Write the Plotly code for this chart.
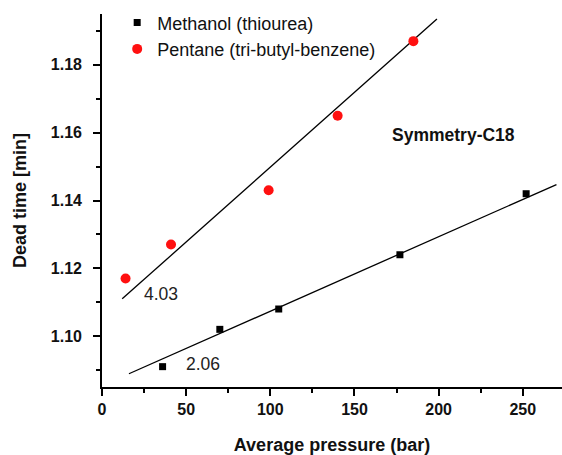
import plotly.graph_objects as go

# Data
methanol_p = [36, 70, 105, 177, 252]
methanol_t = [1.091, 1.102, 1.108, 1.124, 1.142]
pentane_p = [14, 41, 99, 140, 185]
pentane_t = [1.117, 1.127, 1.143, 1.165, 1.187]

methanol_fit_p = [16, 270]
methanol_fit_t = [1.0889, 1.1447]
pentane_fit_p = [12, 199]
pentane_fit_t = [1.111, 1.1935]

slope_labels = ["4.03", "2.06"]
slope_label_p = [24, 49]
slope_label_t = [1.1123, 1.0917]

FONT = "Liberation Sans, Arial, Helvetica, sans-serif"

fig = go.Figure()
fig.add_trace(go.Scatter(x=methanol_fit_p, y=methanol_fit_t, mode="lines",
                         line=dict(color="black", width=1.3), showlegend=False,
                         hoverinfo="skip"))
fig.add_trace(go.Scatter(x=pentane_fit_p, y=pentane_fit_t, mode="lines",
                         line=dict(color="black", width=1.3), showlegend=False,
                         hoverinfo="skip"))
fig.add_trace(go.Scatter(x=methanol_p, y=methanol_t, mode="markers",
                         name="Methanol (thiourea)",
                         marker=dict(symbol="square", size=7, color="black")))
fig.add_trace(go.Scatter(x=pentane_p, y=pentane_t, mode="markers",
                         name="Pentane (tri-butyl-benzene)",
                         marker=dict(symbol="circle", size=10, color="#ff1010")))

for txt, px, ty in zip(slope_labels, slope_label_p, slope_label_t):
    fig.add_annotation(x=px, y=ty, text=txt, showarrow=False, xanchor="left",
                       yanchor="middle", font=dict(family=FONT, size=17.5, color="#222"))

fig.add_annotation(x=209, y=1.1592, text="<b>Symmetry-C18</b>", showarrow=False,
                   xanchor="center", yanchor="middle",
                   font=dict(family=FONT, size=17.5, color="#111"))

fig.update_layout(
    width=562, height=455,
    margin=dict(l=102, r=0, t=14, b=68),
    plot_bgcolor="white", paper_bgcolor="white",
    font=dict(family=FONT, color="black"),
    legend=dict(x=0.033, y=1.026, xanchor="left", yanchor="top",
                bgcolor="rgba(0,0,0,0)", borderwidth=0,
                font=dict(family=FONT, size=18, color="#111"),
                tracegroupgap=0, itemsizing="trace"),
    xaxis=dict(
        range=[0, 273.3], showline=True, linecolor="black", linewidth=1.6,
        ticks="outside", ticklen=7, tickwidth=1.5, tickcolor="black",
        dtick=50, tick0=0, showgrid=False, zeroline=False,
        minor=dict(dtick=25, ticks="outside", ticklen=4, tickwidth=1.5, tickcolor="black"),
        tickfont=dict(family=FONT, size=16, weight="bold", color="#111"),
        title=dict(text="<b>Average pressure (bar)</b>", standoff=21,
                   font=dict(family=FONT, size=18, color="#111")),
        automargin=False,
    ),
    yaxis=dict(
        range=[1.085, 1.195], showline=True, linecolor="black", linewidth=1.6,
        ticks="outside", ticklen=7, tickwidth=1.5, tickcolor="black",
        dtick=0.02, tick0=1.0, tickformat=".2f", showgrid=False, zeroline=False,
        minor=dict(dtick=0.01, ticks="outside", ticklen=4, tickwidth=1.5, tickcolor="black"),
        tickfont=dict(family=FONT, size=16, weight="bold", color="#111"),
        ticklabelstandoff=8,
        title=dict(text="<b>Dead time [min]</b>", standoff=20,
                   font=dict(family=FONT, size=18, color="#111")),
        automargin=False,
    ),
)

fig.write_html("out.html", config={"displayModeBar": False},
               post_script="document.body.style.margin='0px';")
